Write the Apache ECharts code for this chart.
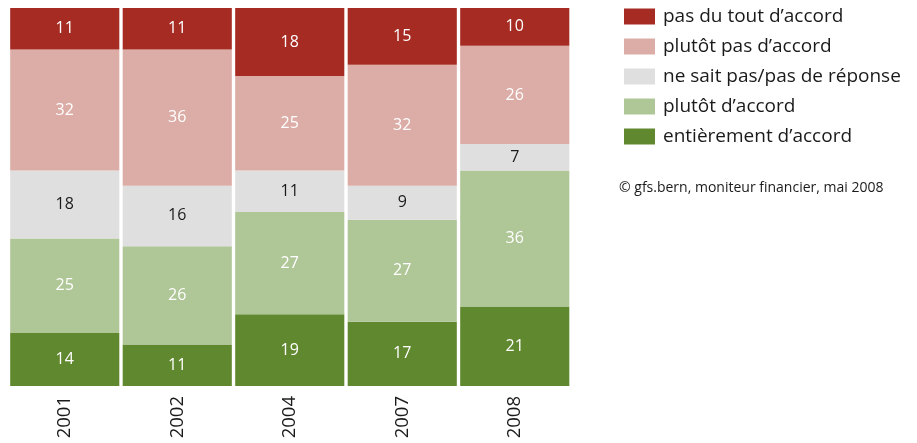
<!DOCTYPE html>
<html>
<head>
<meta charset="utf-8">
<script src="https://cdn.jsdelivr.net/npm/echarts@6/dist/echarts.min.js"></script>
<style>
  html, body { margin: 0; padding: 0; background: #fff; }
  #chart { width: 917px; height: 443px; }
</style>
</head>
<body>
<div id="chart"></div>
<script>
// Survey years
const years = ['2001', '2002', '2004', '2007', '2008'];

// Answer shares in percent, per year (bottom of the stack first)
const entierementDaccord = [14, 11, 19, 17, 21];
const plutotDaccord      = [25, 26, 27, 27, 36];
const neSaitPas          = [18, 16, 11, 9, 7];
const plutotPasDaccord   = [32, 36, 25, 32, 26];
const pasDuToutDaccord   = [11, 11, 18, 15, 10];

const seriesNames = [
  'entièrement d’accord',
  'plutôt d’accord',
  'ne sait pas/pas de réponse',
  'plutôt pas d’accord',
  'pas du tout d’accord'
];
const seriesValues = [entierementDaccord, plutotDaccord, neSaitPas, plutotPasDaccord, pasDuToutDaccord];
const seriesColors = ['#60882f', '#afc697', '#dfdfdf', '#dcaca6', '#a62b22'];
const labelColors  = ['#ffffff', '#ffffff', '#1a1a1a', '#ffffff', '#ffffff'];

const sourceNote = '© gfs.bern, moniteur financier, mai 2008';

const FONT = '"Open Sans", "Noto Sans", sans-serif';

const chart = echarts.init(document.getElementById('chart'));

chart.setOption({
  animation: false,
  textStyle: { fontFamily: FONT },
  grid: { left: 8.5, right: 346, top: 8, bottom: 57, containLabel: false },
  xAxis: {
    type: 'category',
    data: years,
    axisLine: { show: false },
    axisTick: { show: false },
    axisLabel: {
      rotate: 90,
      margin: 10,
      fontSize: 18.5,
      color: '#1a1a1a',
      fontFamily: FONT
    }
  },
  yAxis: {
    type: 'value',
    min: 0,
    max: 100,
    show: false,
    splitLine: { show: false }
  },
  legend: {
    orient: 'vertical',
    left: 619,
    top: 2,
    icon: 'rect',
    itemWidth: 31,
    itemHeight: 16,
    itemGap: 11,
    data: seriesNames.slice().reverse(),
    textStyle: {
      fontSize: 19,
      color: '#1a1a1a',
      fontFamily: FONT,
      lineHeight: 16,
      padding: [0, 0, 0, 3]
    }
  },
  graphic: [{
    type: 'text',
    left: 619,
    top: 181,
    style: {
      text: sourceNote,
      font: '14px ' + FONT,
      fill: '#1a1a1a'
    }
  }],
  series: seriesNames.map((name, i) => ({
    name: name,
    type: 'bar',
    stack: 'total',
    barCategoryGap: '3%',
    data: seriesValues[i],
    itemStyle: { color: seriesColors[i] },
    label: {
      show: true,
      position: 'inside',
      formatter: '{c}',
      fontSize: 16,
      color: labelColors[i],
      fontFamily: FONT
    }
  }))
});
</script>
</body>
</html>
